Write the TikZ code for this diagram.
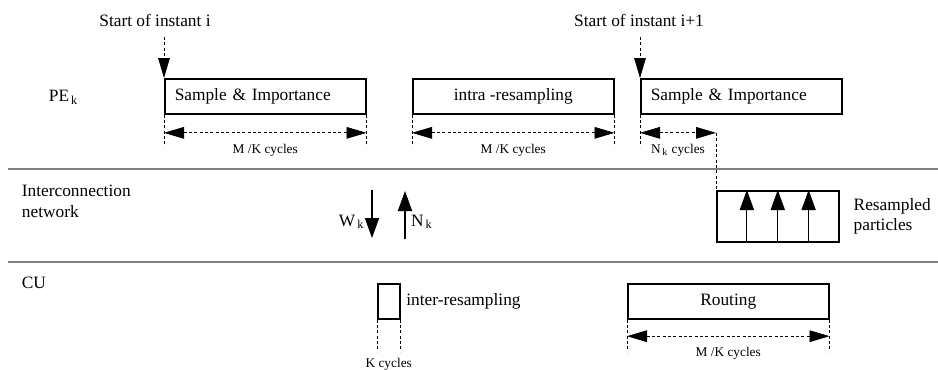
\documentclass[tikz,border=0pt]{standalone}
\usepackage{fontspec}
\setmainfont{Liberation Serif}
\usetikzlibrary{arrows.meta,positioning,calc}
\tikzset{
	% standard arrow tip
	>={Triangle[length=12pt,width=7pt]},
	% stage box
	box/.style={
		rectangle,
		draw=black, line width=0.9pt,
		minimum height=21pt,
		anchor=north west,
		font=\fontsize{10.4}{12}\selectfont
	},
	% box with text on the left
	leftbox/.style={
		box,
		text width=108.6pt,
		inner xsep=6pt,
		align=left
	},
	% box with centred text
	midbox/.style={
		box,
		minimum width=120.6pt,
		align=center
	},
	% dashed guide line
	guide/.style={
		dash pattern=on 1.8pt off 1.4pt,
		line width=0.5pt
	},
	% duration arrow
	dim/.style={
		<->,
		dash pattern=on 1.8pt off 1.4pt,
		line width=0.5pt
	},
	% solid transfer arrow
	xfer/.style={
		->,
		line width=0.7pt,
		>={Triangle[length=12pt,width=8.5pt]}
	},
	% lane separator
	lane/.style={
		draw=gray, line width=1.2pt
	},
	% text styles
	lbl/.style={font=\fontsize{10.4}{12.5}\selectfont},
	small/.style={font=\fontsize{8}{9.5}\selectfont}
}

\begin{document}
\begin{tikzpicture}[x=0.6pt,y=-0.6pt]
	\useasboundingbox (0,0) rectangle (938,369);

	% lanes
	\draw[lane] (8,169) -- (938,169);
	\draw[lane] (8,262) -- (938,262);
	\node[lbl,anchor=west] (pe) at (43,97) {PE\textsubscript{\,k}};
	\node[lbl,anchor=west,align=left] (net) at (16,201)
		{Interconnection\\network};
	\node[lbl,anchor=west] (cu) at (16,283) {CU};

	% PE lane
	\node[leftbox] (sample1) at (164,78) {Sample \& Importance};
	\node[midbox] (intra) at (412,78) {intra -resampling};
	\node[leftbox] (sample2) at (640,78) {Sample \& Importance};

	\node[lbl] (start1) at (155,20) {Start of instant i};
	\node[lbl] (start2) at (639,20) {Start of instant i+1};
	\coordinate (t1) at (164,37);
	\coordinate (t2) at (640,37);
	\draw[guide,->] (t1) -- (sample1.north west);
	\draw[guide,->] (t2) -- (sample2.north west);

	\draw[guide] (sample1.south west) -- ++(0,32);
	\draw[guide] (sample1.south east) -- ++(0,32);
	\draw[dim] ([yshift=-11pt]sample1.south west) --
		node[small,below=3pt] {M /K cycles} ([yshift=-11pt]sample1.south east);
	\draw[guide] (intra.south west) -- ++(0,32);
	\draw[guide] (intra.south east) -- ++(0,32);
	\draw[dim] ([yshift=-11pt]intra.south west) --
		node[small,below=3pt] {M /K cycles} ([yshift=-11pt]intra.south east);

	% network lane
	\node[box,minimum width=73.2pt,minimum height=30.6pt] (resampled) at (716,190) {};
	\foreach \f in {0.25,0.5,0.75}
		\draw[xfer] ($(resampled.south west)!\f!(resampled.south east)$) --
			($(resampled.north west)!\f!(resampled.north east)$);
	\node[lbl,align=left,right=5pt of resampled] (rlabel) {Resampled\\particles};

	\draw[guide] (sample2.south west) -- ++(0,32);
	\coordinate (nk) at ([yshift=-11pt]sample2.south west -| resampled.north west);
	\draw[dim] ([yshift=-11pt]sample2.south west) --
		node[small,below=3pt] {N\textsubscript{\,k} cycles} (nk);
	\draw[guide] (nk) -- (resampled.north west);

	\coordinate (wtop) at (372,190);
	\coordinate (wbot) at (372,238);
	\coordinate (ntop) at (405,191);
	\coordinate (nbot) at (405,239);
	\draw[xfer] (wtop) -- node[lbl,left=1pt,pos=0.66] (wk) {W\textsubscript{\,k}} (wbot);
	\draw[xfer] (nbot) -- node[lbl,right=0pt,pos=0.36] (nklbl) {N\textsubscript{\,k}} (ntop);

	% CU lane
	\node[box,minimum width=13.2pt] (inter) at (377,283) {};
	\node[lbl,right=0pt of inter] (ilabel) {inter-resampling};
	\draw[guide] (inter.south west) -- ++(0,32);
	\draw[guide] (inter.south east) -- ++(0,32);
	\node[small,below=20pt of inter] (kcyc) {K cycles};

	\node[midbox] (routing) at (627,283) {Routing};
	\draw[guide] (routing.south west) -- ++(0,32);
	\draw[guide] (routing.south east) -- ++(0,32);
	\draw[dim] ([yshift=-10pt]routing.south west) --
		node[small,below=3pt] {M /K cycles} ([yshift=-10pt]routing.south east);
\end{tikzpicture}
\end{document}
